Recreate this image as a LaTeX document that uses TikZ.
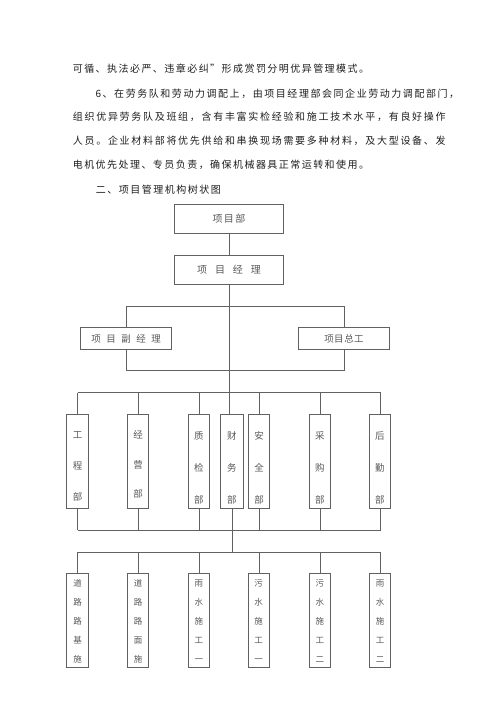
\documentclass[tikz,border=0pt]{standalone}
\usepackage{fontspec}
\newfontfamily\cjk{Noto Sans CJK SC}
\makeatletter
\newcommand\sprd[2]{\def\sprd@p{#1}\sprd@a#2\relax}
\def\sprd@a#1{\ifx#1\relax\else\makebox[\sprd@p][c]{#1}\expandafter\sprd@a\fi}
\makeatother
\definecolor{txt}{gray}{0.12}
\definecolor{boxtxt}{gray}{0.35}
\definecolor{ln}{gray}{0.38}
\tikzset{
  body/.style={anchor=west, inner sep=0pt, text=txt, font=\cjk\fontsize{10}{12}\selectfont},
  hbox/.style={draw=ln, line width=0.8pt, inner sep=0pt, text=boxtxt},
  vbox/.style={draw=ln, line width=0.8pt, inner sep=0pt, minimum height=94pt},
  dtxt/.style={inner sep=0pt, align=center, text=boxtxt, font=\cjk\fontsize{9.5}{32}\selectfont},
  btxt/.style={inner sep=0pt, align=center, text=boxtxt, font=\cjk\fontsize{8.5}{19}\selectfont},
  conn/.style={draw=ln, line width=0.8pt}
}
\begin{document}
\begin{tikzpicture}[x=1pt,y=-1pt]
\useasboundingbox (0,0) rectangle (500,707);
\fill[white] (0,0) rectangle (500,707);
% body text
\node[body] (l1) at (71.9,69) {\sprd{11.45pt}{可循、执法必严、违章必纠”形成赏罚分明优异管理模式。}};
\node[body] (l2) at (95.5,93.3) {\makebox[6.2pt][l]{6}\sprd{11.55pt}{、在劳务队和劳动力调配上，由项目经理部会同企业劳动力调配部门，}};
\node[body] (l3) at (71.9,117) {\sprd{11.7pt}{组织优异劳务队及班组，含有丰富实检经验和施工技术水平，有良好操作}};
\node[body] (l4) at (71.9,141) {\sprd{11.7pt}{人员。企业材料部将优先供给和串换现场需要多种材料，及大型设备、发}};
\node[body] (l5) at (71.9,164.7) {\sprd{11.45pt}{电机优先处理、专员负责，确保机械器具正常运转和使用。}};
\node[body] (h1) at (94.9,189.3) {\sprd{11.5pt}{二、项目管理机构树状图}};
% top boxes
\node[hbox, minimum width=109.4pt, minimum height=29.4pt, font=\cjk\fontsize{10}{12}\selectfont] (xmb) at (229,219) {\sprd{11.3pt}{项目部}};
\node[hbox, minimum width=109.4pt, minimum height=29pt, font=\cjk\fontsize{10}{12}\selectfont] (xmjl) at (229,269.8) {\sprd{17.9pt}{项目经理}};
\node[hbox, minimum width=91pt, minimum height=22.4pt, font=\cjk\fontsize{9.5}{12}\selectfont] (fjl) at (126.2,338.5) {\sprd{15pt}{项目副经理}};
\node[hbox, minimum width=91.4pt, minimum height=22.4pt, font=\cjk\fontsize{9.5}{12}\selectfont] (zg) at (344,338.5) {\sprd{10pt}{项目总工}};
% department boxes
\node[vbox, minimum width=21.6pt] (gc) at (77.5,461.3) {};
\node[vbox, minimum width=21.4pt] (jy) at (138,461.3) {};
\node[vbox, minimum width=21pt] (zj) at (198.8,461.3) {};
\node[vbox, minimum width=23pt] (cw) at (231.8,461.3) {};
\node[vbox, minimum width=21pt] (aq) at (259.2,461.3) {};
\node[vbox, minimum width=21pt] (cg) at (319.8,461.3) {};
\node[vbox, minimum width=21pt] (hq) at (379.8,461.3) {};
\node[dtxt, font=\cjk\fontsize{9.5}{31}\selectfont] (gct) at (77.5,466.5) {工\\程\\部};
\node[dtxt, font=\cjk\fontsize{9.5}{29.5}\selectfont] (jyt) at (138,464.7) {经\\营\\部};
\node[dtxt] (zjt) at (198.8,468.3) {质\\检\\部};
\node[dtxt] (cwt) at (231.8,468.3) {财\\务\\部};
\node[dtxt] (aqt) at (259.2,467.8) {安\\全\\部};
\node[dtxt] (cgt) at (319.8,467.8) {采\\购\\部};
\node[dtxt] (hqt) at (379.8,467.8) {后\\勤\\部};
% bottom boxes
\node[vbox, minimum width=21.6pt, minimum height=94.4pt] (b1) at (77.5,620.5) {};
\node[vbox, minimum width=21.4pt, minimum height=94.4pt] (b2) at (138,620.5) {};
\node[vbox, minimum width=21pt, minimum height=94.4pt] (b3) at (198.8,620.5) {};
\node[vbox, minimum width=21pt, minimum height=94.4pt] (b4) at (258.5,620.5) {};
\node[vbox, minimum width=21pt, minimum height=94.4pt] (b5) at (319.8,620.5) {};
\node[vbox, minimum width=21pt, minimum height=94.4pt] (b6) at (380.2,620.5) {};
\node[btxt] (b1t) at (77.5,621.3) {道\\路\\路\\基\\施};
\node[btxt] (b2t) at (138,621.3) {道\\路\\路\\面\\施};
\node[btxt] (b3t) at (198.8,621.3) {雨\\水\\施\\工\\一};
\node[btxt] (b4t) at (258.5,621.3) {污\\水\\施\\工\\一};
\node[btxt] (b5t) at (319.8,621.3) {污\\水\\施\\工\\二};
\node[btxt] (b6t) at (380.2,621.3) {雨\\水\\施\\工\\二};
% junction coordinates
\coordinate (j1) at (229.6,306);
\coordinate (j1l) at (126.3,306);
\coordinate (j1r) at (344.3,306);
\coordinate (j2l) at (126.3,370);
\coordinate (j2r) at (344.3,370);
\coordinate (j3l) at (77.5,392.7);
\coordinate (j3r) at (380.8,392.7);
\coordinate (j4l) at (77.5,530);
\coordinate (j4r) at (380.8,530);
\coordinate (j4c) at (232.3,530);
\coordinate (j5c) at (232.3,552);
\coordinate (j5l) at (77.5,552);
\coordinate (j5r) at (380.8,552);
% connectors
\draw[conn] (xmb.south) -- (xmjl.north);
\draw[conn] (xmjl.south) -- (xmjl.south |- cw.north);
\draw[conn] (j1l) -- (j1r);
\draw[conn] (j1l) -- (fjl.north -| j1l);
\draw[conn] (j1r) -- (zg.north -| j1r);
\draw[conn] (fjl.south -| j2l) -- (j2l) -- (j2r) -- (zg.south -| j2r);
\draw[conn] (j3l) -- (j3r);
\foreach \d/\x in {gc/77.5,jy/138.3,zj/199,aq/259.7,cg/320,hq/380.8}{
  \draw[conn] (\x,392.7) -- (\x,414.3);
  \draw[conn] (\x,508.3) -- (\x,530);
}
\draw[conn] (j4l) -- (j4r);
\draw[conn] (cw.south -| j4c) -- (j4c) -- (j5c);
\draw[conn] (j5l) -- (j5r);
\foreach \b/\x in {b1/77.5,b2/138.3,b3/199,b4/259.7,b5/320,b6/380.8}{
  \draw[conn] (\x,552) -- (\x,573.3);
}
\end{tikzpicture}
\end{document}
